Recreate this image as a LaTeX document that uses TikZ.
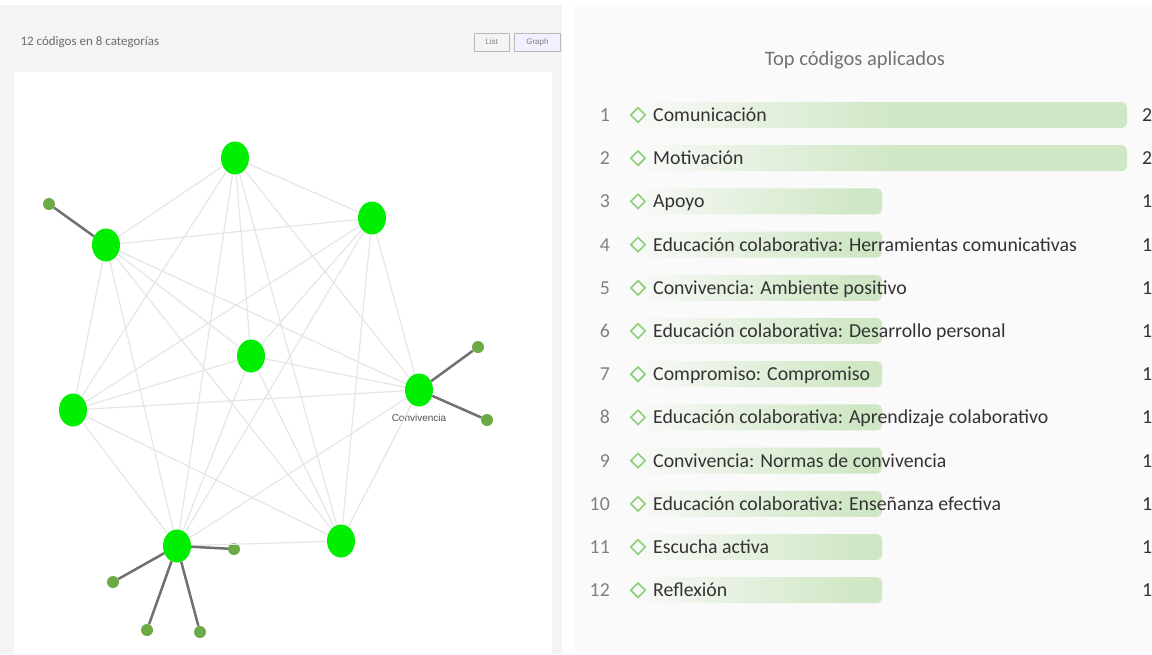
\documentclass[tikz,border=0pt]{standalone}
\usepackage{fontspec}
\setmainfont{Carlito}
\newfontfamily\arial{Liberation Sans}
\usetikzlibrary{positioning,shapes.geometric}
\definecolor{verde}{HTML}{00EE00}
\definecolor{oliva}{HTML}{6BAA45}
\definecolor{arista}{HTML}{E6E6E6}
\definecolor{radio}{HTML}{707070}
\definecolor{barra}{HTML}{CFE7C4}
\definecolor{marco}{HTML}{F4F4F4}
\definecolor{panel}{HTML}{FAFAFA}
\definecolor{borde}{HTML}{8CCF76}
\definecolor{texto}{HTML}{333333}
\pgfdeclarehorizontalshading{barlarga}{100bp}{color(0bp)=(panel); color(25bp)=(panel); color(52bp)=(barra); color(100bp)=(barra)}
\pgfdeclarehorizontalshading{barcorta}{100bp}{color(0bp)=(panel); color(25bp)=(panel); color(70bp)=(barra); color(100bp)=(barra)}

\begin{document}
\begin{tikzpicture}[x=1pt,y=-1pt, hub/.style={ellipse,fill=verde,minimum width=28pt,minimum height=33pt,inner sep=0pt}, hoja/.style={circle,fill=oliva,minimum size=12pt,inner sep=0pt}, tie/.style={draw=arista,line width=1.2pt}, spoke/.style={draw=radio,line width=2.5pt}, boton/.style={draw=gray!55,minimum height=18pt,inner sep=1pt,font=\arial\fontsize{8}{9}\selectfont,text=gray}, rombo/.style={diamond,draw=borde,line width=1.6pt,minimum size=15pt,inner sep=0pt}, fila/.style={font=\fontsize{19.8}{22}\selectfont,text=texto,anchor=west,text height=14pt,text depth=1pt,inner sep=2pt}]
\clip (0,0) rectangle (1152,654);
\fill[white] (0,0) rectangle (1152,654);
\fill[marco] (0,5) rectangle (562,654);
\fill[white] (14,72) rectangle (552,654);
\fill[panel] (575,5) rectangle (1152,652);
% cabecera del grafo
\node[anchor=west,font=\fontsize{13}{15}\selectfont,text=gray!85!black] (cuenta) at (17,42) {12 códigos en 8 categorías};
\node[boton,minimum width=35pt] (list) at (491.5,42) {List};
\node[boton,fill=blue!6,minimum width=46pt,right=5pt of list] (graph) {Graph};
% grafo de categorias
\node[hub] (n1) at (235,158) {};
\node[hub] (n2) at (372,218) {};
\node[hub] (n3) at (106,245) {};
\node[hub] (n4) at (251,356) {};
\node[hub] (n5) at (419,390) {};
\node[hub] (n6) at (73,410) {};
\node[hub] (n7) at (177,546) {};
\node[hub] (n8) at (341,541) {};
\node[hoja] (h1) at (49,204) {};
\node[hoja] (h2) at (478,347) {};
\node[hoja] (h3) at (487,420) {};
\node[hoja] (h4) at (234,549) {};
\node[hoja] (h5) at (113,582) {};
\node[hoja] (h6) at (147,630) {};
\node[hoja] (h7) at (200,632) {};
\node[font=\arial\fontsize{10}{11}\selectfont,text=texto!85,below=4pt of n5] (conv) {Convivencia};
\foreach \i in {1,...,7}{\pgfmathtruncatemacro\k{\i+1} \foreach \j in {\k,...,8} \draw[tie] (n\i)--(n\j);}
\draw[spoke] (n3)--(h1); \draw[spoke] (n5)--(h2); \draw[spoke] (n5)--(h3);
\draw[spoke] (n7)--(h4); \draw[spoke] (n7)--(h5); \draw[spoke] (n7)--(h6); \draw[spoke] (n7)--(h7);
% lista de codigos
\node[font=\fontsize{20.5}{24}\selectfont,text=gray!90!black] (titulo) at (855,60) {Top códigos aplicados};
\foreach \t/\w/\s/\c [count=\i] in {Comunicación/1127/barlarga/2, Motivación/1127/barlarga/2, Apoyo/882/barcorta/1, Educación colaborativa: Herramientas comunicativas/882/barcorta/1, Convivencia: Ambiente positivo/882/barcorta/1, Educación colaborativa: Desarrollo personal/882/barcorta/1, Compromiso: Compromiso/882/barcorta/1, Educación colaborativa: Aprendizaje colaborativo/882/barcorta/1, Convivencia: Normas de convivencia/882/barcorta/1, Educación colaborativa: Enseñanza efectiva/882/barcorta/1, Escucha activa/882/barcorta/1, Reflexión/882/barcorta/1}{
  \pgfmathsetmacro\y{115+(\i-1)*43.2}
  \shade[shading=\s,rounded corners=5pt] (630,{\y-13}) rectangle (\w,{\y+13});
  \node[fila,anchor=east,text=gray] (num\i) at (612,\y) {\i};
  \node[rombo] (rom\i) at (638,\y) {};
  \node[fila] (cod\i) at (651,\y) {\t};
  \node[fila] (cnt\i) at (1140,\y) {\c};
}
\end{tikzpicture}
\end{document}
